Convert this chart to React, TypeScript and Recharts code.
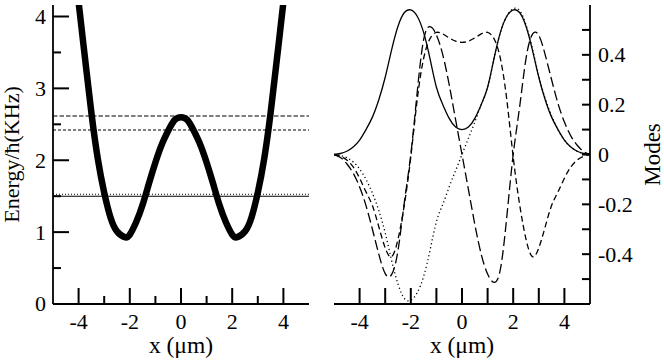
import React from 'react';
import { LineChart, Line, XAxis, YAxis, ReferenceLine } from 'recharts';

// ---------- data: left panel (potential + energy levels) ----------
const potX = [-4.25, -4, -3.75, -3.5, -3.25, -3, -2.75, -2.5, -2.2, -2, -1.75, -1.5, -1.25, -1, -0.75, -0.5, -0.25,
  0, 0.25, 0.5, 0.75, 1, 1.25, 1.5, 1.75, 2, 2.2, 2.5, 2.75, 3, 3.25, 3.5, 3.75, 4, 4.25];
const potV = [5.05, 4.2, 3.42, 2.66, 2.02, 1.55, 1.2, 1.01, 0.93, 0.965, 1.14, 1.38, 1.68, 1.97, 2.22, 2.41, 2.56,
  2.6, 2.56, 2.41, 2.22, 1.97, 1.68, 1.38, 1.14, 0.965, 0.93, 1.01, 1.2, 1.55, 2.02, 2.66, 3.42, 4.2, 5.05];
const levelValues = [1.5, 1.527, 2.42, 2.615];

// ---------- data: right panel (modes) ----------
const modeX = [-5, -4.75, -4.5, -4.25, -4, -3.75, -3.5, -3.25, -3, -2.75, -2.5, -2.25, -2, -1.75, -1.5, -1.25, -1, -0.75, -0.5, -0.25,
  0, 0.25, 0.5, 0.75, 1, 1.25, 1.5, 1.75, 2, 2.25, 2.5, 2.75, 3, 3.25, 3.5, 3.75, 4, 4.25, 4.5, 4.75, 5];
const modeSolid = [0, 0.004, 0.013, 0.03, 0.058, 0.1, 0.15, 0.22, 0.31, 0.42, 0.515, 0.57, 0.58, 0.555, 0.49, 0.385, 0.27, 0.2, 0.145, 0.11,
  0.1, 0.11, 0.145, 0.2, 0.27, 0.385, 0.49, 0.555, 0.58, 0.57, 0.515, 0.42, 0.31, 0.22, 0.15, 0.1, 0.058, 0.03, 0.013, 0.004, 0];
const modeDotted = [0, -0.004, -0.013, -0.03, -0.058, -0.1, -0.155, -0.225, -0.315, -0.425, -0.52, -0.578, -0.585, -0.555, -0.49, -0.385, -0.27, -0.2, -0.13, -0.065,
  0, 0.065, 0.13, 0.2, 0.27, 0.385, 0.49, 0.555, 0.585, 0.578, 0.52, 0.425, 0.315, 0.225, 0.155, 0.1, 0.058, 0.03, 0.013, 0.004, 0];
const modeDashed = [0, -0.007, -0.022, -0.05, -0.095, -0.15, -0.205, -0.29, -0.375, -0.41, -0.34, -0.2, -0.01, 0.22, 0.385, 0.465, 0.49, 0.484, 0.468, 0.455,
  0.45, 0.455, 0.468, 0.484, 0.49, 0.465, 0.385, 0.22, -0.01, -0.2, -0.34, -0.41, -0.375, -0.29, -0.205, -0.15, -0.095, -0.05, -0.022, -0.007, 0];
const modeLongDashed = [0, -0.012, -0.037, -0.075, -0.13, -0.205, -0.3, -0.4, -0.478, -0.482, -0.385, -0.19, 0, 0.25, 0.46, 0.513, 0.48, 0.4, 0.28, 0.14,
  0, -0.14, -0.28, -0.4, -0.48, -0.513, -0.46, -0.25, 0, 0.19, 0.385, 0.482, 0.478, 0.4, 0.3, 0.205, 0.13, 0.075, 0.037, 0.012, 0];

// ---------- ticks ----------
const xTicks = [-4, -3, -2, -1, 0, 1, 2, 3, 4];
const xTickLabels = ['-4', '', '-2', '', '0', '', '2', '', '4'];
const energyTicks = [0, 0.5, 1, 1.5, 2, 2.5, 3, 3.5, 4];
const energyTickLabels = ['0', '', '1', '', '2', '', '3', '', '4'];
const modeTicks = [-0.5, -0.4, -0.3, -0.2, -0.1, 0, 0.1, 0.2, 0.3, 0.4, 0.5];
const modeTickLabels = ['', '-0.4', '', '-0.2', '', '0', '', '0.2', '', '0.4', ''];

const FONT = "'Liberation Serif', 'Times New Roman', serif";
const TICK_FS = 22;
const LONG = 16;
const SHORT = 8;
const TICK_W = 2;

type Side = 'bottom' | 'top' | 'left' | 'right';

const potRows = potX.map((x, i) => ({ x, v: potV[i] }));
const modeRows = modeX.map((x, i) => ({
  x,
  s: modeSolid[i],
  d: modeDotted[i],
  m: modeDashed[i],
  l: modeLongDashed[i],
}));

// custom tick: an inward tick mark (+ the label on the labelled axes)
function makeTick(side: Side, labels: string[], lenFor: (i: number) => number, showLabel: boolean) {
  return (props: any) => {
    const x = Number(props.x);
    const y = Number(props.y);
    const index = props.index;
    const len = lenFor(index);
    let x2 = x;
    let y2 = y;
    if (side === 'bottom') y2 = y - len;
    else if (side === 'top') y2 = y + len;
    else if (side === 'left') x2 = x + len;
    else x2 = x - len;
    const lab = labels[index];
    let text: React.ReactNode = null;
    if (showLabel && lab) {
      if (side === 'bottom') {
        text = (
          <text x={x} y={y + 25} textAnchor="middle" fontSize={TICK_FS} fontFamily={FONT} fill="#000" stroke="none">
            {lab}
          </text>
        );
      } else if (side === 'left') {
        text = (
          <text x={x - 7} y={y + TICK_FS * 0.34} textAnchor="end" fontSize={TICK_FS} fontFamily={FONT} fill="#000" stroke="none">
            {lab}
          </text>
        );
      } else if (side === 'right') {
        text = (
          <text x={x + 8} y={y + TICK_FS * 0.34} textAnchor="start" fontSize={TICK_FS} fontFamily={FONT} fill="#000" stroke="none">
            {lab}
          </text>
        );
      }
    }
    return (
      <g>
        <path d={`M${x},${y}L${x2},${y2}`} stroke="#000" strokeWidth={TICK_W} fill="none" />
        {text}
      </g>
    );
  };
}

const axisLine = { stroke: '#000', strokeWidth: 1.8 };
const labelStyle = (fs: number) => ({ fontSize: fs, fontFamily: FONT, fill: '#000' });
const leftXLen = (i: number) => (xTickLabels[i] ? LONG : SHORT);
const leftYLen = (i: number) => (energyTickLabels[i] ? LONG : SHORT);
const allLong = () => LONG;
const allShort = () => SHORT;

const levelDash: (string | undefined)[] = [undefined, '1 2', '3 2', '4.5 2'];

function xAxisFor(id: string | number, orientation: 'top' | 'bottom', lenFor: (i: number) => number) {
  const bottom = orientation === 'bottom';
  return (
    <XAxis
      xAxisId={id}
      dataKey={bottom ? 'x' : undefined}
      orientation={orientation}
      type="number"
      domain={[-5, 5]}
      allowDataOverflow
      ticks={xTicks}
      interval={0}
      height={bottom ? 58 : 0}
      tickSize={0}
      tickMargin={0}
      tickLine={false}
      axisLine={axisLine}
      tick={makeTick(orientation, xTickLabels, lenFor, bottom)}
      label={bottom ? { value: 'x (μm)', position: 'insideBottom', offset: 9, style: labelStyle(23.5) } : undefined}
    />
  );
}

function EnergyPanel() {
  const dom: [number, number] = [0, 4.16];
  return (
    <LineChart width={330} height={362} data={potRows} margin={{ top: 5, right: 21, bottom: 0, left: 0 }}>
      {xAxisFor(0, 'bottom', leftXLen)}
      {xAxisFor('top', 'top', leftXLen)}
      <YAxis
        type="number"
        domain={dom}
        allowDataOverflow
        ticks={energyTicks}
        interval={0}
        width={53}
        tickSize={0}
        tickMargin={0}
        tickLine={false}
        axisLine={axisLine}
        tick={makeTick('left', energyTickLabels, leftYLen, true)}
        label={{ value: 'Energy/ħ(KHz)', angle: -90, position: 'insideLeft', offset: 11, style: { ...labelStyle(22), textAnchor: 'middle' } }}
      />
      <YAxis
        yAxisId="right"
        orientation="right"
        type="number"
        domain={dom}
        allowDataOverflow
        ticks={energyTicks}
        interval={0}
        width={0}
        tickSize={0}
        tickMargin={0}
        tickLine={false}
        axisLine={axisLine}
        tick={makeTick('right', energyTickLabels, leftYLen, false)}
      />
      {levelValues.map((v, i) => (
        <ReferenceLine key={`lev${i}`} y={v} stroke="#000" strokeWidth={1.1} strokeDasharray={levelDash[i]} />
      ))}
      <Line dataKey="v" type="natural" stroke="#000" strokeWidth={6.5} dot={false} activeDot={false} isAnimationActive={false} />
    </LineChart>
  );
}

function ModesPanel() {
  const dom: [number, number] = [-0.6, 0.6];
  return (
    <LineChart width={334} height={362} data={modeRows} margin={{ top: 5, right: 0, bottom: 0, left: 4 }}>
      {xAxisFor(0, 'bottom', allLong)}
      {xAxisFor('top', 'top', allLong)}
      <YAxis
        orientation="right"
        type="number"
        domain={dom}
        allowDataOverflow
        ticks={modeTicks}
        interval={0}
        width={74}
        tickSize={0}
        tickMargin={0}
        tickLine={false}
        axisLine={axisLine}
        tick={makeTick('right', modeTickLabels, allShort, true)}
        label={{ value: 'Modes', angle: -90, position: 'insideRight', offset: 12, style: { ...labelStyle(23), textAnchor: 'middle' } }}
      />
      <YAxis
        yAxisId="left"
        orientation="left"
        type="number"
        domain={dom}
        allowDataOverflow
        ticks={modeTicks}
        interval={0}
        width={0}
        tickSize={0}
        tickMargin={0}
        tickLine={false}
        axisLine={axisLine}
        tick={makeTick('left', modeTickLabels, allShort, false)}
      />
      <Line dataKey="s" type="natural" stroke="#000" strokeWidth={1.3} dot={false} activeDot={false} isAnimationActive={false} />
      <Line dataKey="d" type="natural" stroke="#000" strokeWidth={1.3} strokeDasharray="1.2 2.8" dot={false} activeDot={false} isAnimationActive={false} />
      <Line dataKey="m" type="natural" stroke="#000" strokeWidth={1.3} strokeDasharray="6 3.5" dot={false} activeDot={false} isAnimationActive={false} />
      <Line dataKey="l" type="natural" stroke="#000" strokeWidth={1.3} strokeDasharray="10 4" dot={false} activeDot={false} isAnimationActive={false} />
    </LineChart>
  );
}

export default function App() {
  return (
    <div style={{ position: 'absolute', left: 0, top: 0, width: 664, height: 362, background: '#fff', overflow: 'hidden' }}>
      <div style={{ position: 'absolute', left: 0, top: 0 }}>
        <EnergyPanel />
      </div>
      <div style={{ position: 'absolute', left: 330, top: 0 }}>
        <ModesPanel />
      </div>
    </div>
  );
}
